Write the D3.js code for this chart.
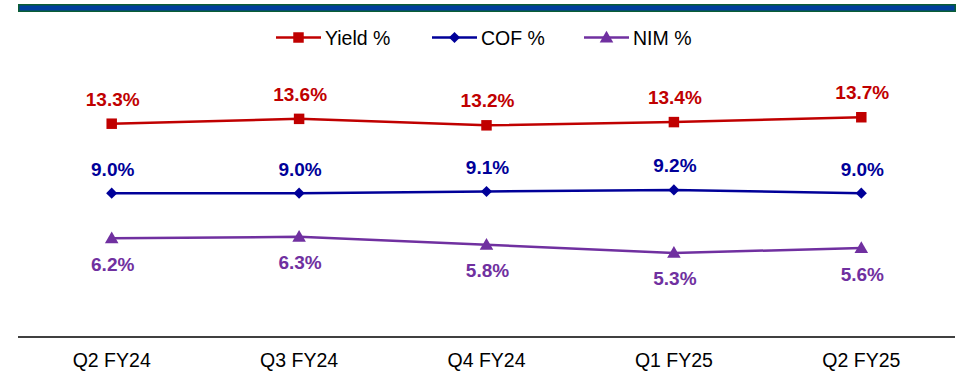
<!DOCTYPE html>
<html>
<head>
<meta charset="utf-8">
<script src="https://cdn.jsdelivr.net/npm/d3@7/dist/d3.min.js"></script>
<style>
  html, body { margin: 0; padding: 0; background: #fff; }
  svg { display: block; }
  text { font-family: "Liberation Sans", Arial, sans-serif; }
</style>
</head>
<body>
<svg id="chart" width="961" height="375"></svg>
<script>
const quarters = ["Q2 FY24", "Q3 FY24", "Q4 FY24", "Q1 FY25", "Q2 FY25"];
const yieldPct = [13.3, 13.6, 13.2, 13.4, 13.7];
const cofPct = [9.0, 9.0, 9.1, 9.2, 9.0];
const nimPct = [6.2, 6.3, 5.8, 5.3, 5.6];
const seriesNames = ["Yield %", "COF %", "NIM %"];

const series = [
  { name: seriesNames[0], values: yieldPct, color: "#C00000", symbol: d3.symbolSquare, size: 110, rotate: 0, shift: 0, labelDy: -18 },
  { name: seriesNames[1], values: cofPct, color: "#000099", symbol: d3.symbolSquare, size: 62, rotate: 45, shift: 0, labelDy: -17.5 },
  { name: seriesNames[2], values: nimPct, color: "#7030A0", symbol: d3.symbolTriangle, size: 80, rotate: 0, shift: 1, labelDy: 32.5 }
];

const svg = d3.select("#chart");

// header rule
svg.append("rect")
  .attr("x", 18.75).attr("y", 4.75).attr("width", 936.5).attr("height", 6.5)
  .attr("fill", "#003F9E").attr("stroke", "#0B5E35").attr("stroke-width", 1.5);

const x = d3.scaleBand().domain(quarters).range([18, 955]);
const y = d3.scaleLinear().domain([0, 16]).range([338.5, 338.5 - 16 * 16.15]);
const cx = d => x(d) + x.bandwidth() / 2;

// category axis
const axis = svg.append("g").attr("transform", "translate(0,337)")
  .call(d3.axisBottom(x).tickSize(0).tickPadding(0));
axis.select(".domain").attr("stroke", "#000").attr("stroke-width", 1.5).attr("d", "M18,0H955");
axis.selectAll("text")
  .attr("y", 29.5).attr("dy", null)
  .attr("font-size", "19.5px").attr("fill", "#000")
  .style("font-family", "'Liberation Sans', Arial, sans-serif");

const line = d3.line().x((v, i) => cx(quarters[i])).y(v => y(v));

series.forEach(s => {
  const g = svg.append("g");
  g.append("path").attr("d", line(s.values))
    .attr("fill", "none").attr("stroke", s.color).attr("stroke-width", 2.5);
  g.selectAll("path.mark").data(s.values).enter().append("path")
    .attr("class", "mark")
    .attr("d", d3.symbol().type(s.symbol).size(s.size))
    .attr("transform", (v, i) => `translate(${cx(quarters[i])},${y(v) + s.shift}) rotate(${s.rotate})`)
    .attr("fill", s.color);
  g.selectAll("text").data(s.values).enter().append("text")
    .attr("x", (v, i) => cx(quarters[i]) + 1)
    .attr("y", v => y(v) + s.labelDy)
    .attr("text-anchor", "middle")
    .attr("font-size", "19px").attr("font-weight", "bold")
    .attr("fill", s.color)
    .text(v => v.toFixed(1) + "%");
});

// legend
const legendX = [276, 432, 584];
series.forEach((s, i) => {
  const g = svg.append("g").attr("transform", `translate(${legendX[i]},37.5)`);
  g.append("line").attr("x1", 0).attr("x2", 45).attr("y1", 0).attr("y2", 0)
    .attr("stroke", s.color).attr("stroke-width", 2.5);
  g.append("path").attr("d", d3.symbol().type(s.symbol).size(s.size))
    .attr("transform", `translate(22.5,${s.shift}) rotate(${s.rotate})`)
    .attr("fill", s.color);
  g.append("text").attr("x", 49).attr("y", 7.5)
    .attr("font-size", "19.5px").attr("fill", "#000")
    .text(s.name);
});
</script>
</body>
</html>
